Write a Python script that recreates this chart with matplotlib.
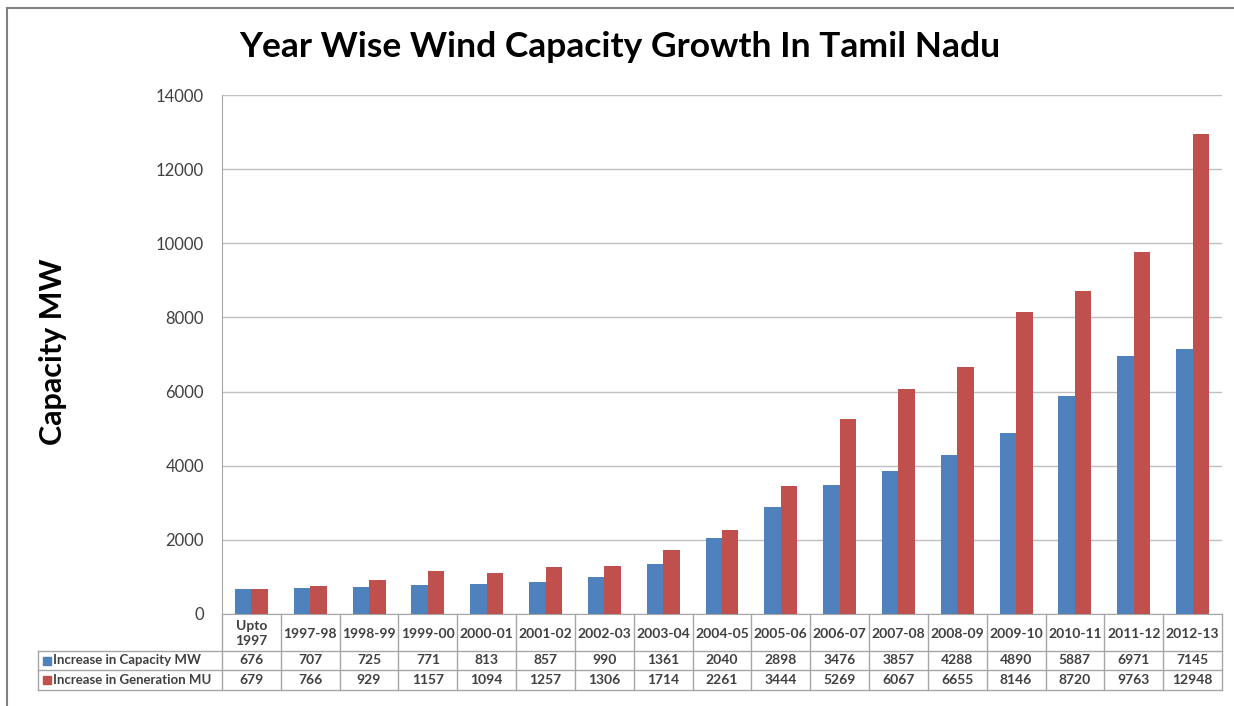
import numpy as np
import matplotlib.pyplot as plt
from matplotlib.lines import Line2D
from matplotlib.patches import Rectangle

# Daten
Jahre = ["Upto\n1997", "1997-98", "1998-99", "1999-00", "2000-01", "2001-02", "2002-03",
         "2003-04", "2004-05", "2005-06", "2006-07", "2007-08", "2008-09", "2009-10",
         "2010-11", "2011-12", "2012-13"]
Kapazitaet = [676, 707, 725, 771, 813, 857, 990, 1361, 2040, 2898, 3476, 3857, 4288,
              4890, 5887, 6971, 7145]
Erzeugung = [679, 766, 929, 1157, 1094, 1257, 1306, 1714, 2261, 3444, 5269, 6067, 6655,
             8146, 8720, 9763, 12948]
Reihen = ["Increase in Capacity MW", "Increase in Generation MU"]

BLAU = "#4F81BD"
ROT = "#C0504D"
GITTER = "#BFBFBF"
RAND = "#A6A6A6"
TEXT = "#404040"

W, H = 1234, 706
plt.rcParams["font.family"] = ["Lato", "DejaVu Sans"]

fig = plt.figure(figsize=(W / 100, H / 100), dpi=100)
links, rechts, oben, unten = 222, 1222, 95, 614
ax = fig.add_axes([links / W, 1 - unten / H, (rechts - links) / W, (unten - oben) / H])

x = np.arange(len(Jahre))
b = 0.28
ax.bar(x - b / 2, Kapazitaet, b, color=BLAU, zorder=3)
ax.bar(x + b / 2, Erzeugung, b, color=ROT, zorder=3)

ax.set_xlim(-0.5, len(Jahre) - 0.5)
ax.set_ylim(0, 14000)
ax.set_yticks(np.arange(0, 14001, 2000))
ax.tick_params(axis="y", length=0, pad=13, labelsize=12, labelcolor=TEXT)
ax.set_xticks([])
ax.grid(axis="y", color=GITTER, linewidth=1, zorder=0)
for s in ["top", "right"]:
    ax.spines[s].set_visible(False)
ax.spines["left"].set_color(RAND)
ax.spines["bottom"].set_color(RAND)

fig.text(620 / W, 1 - 47 / H, "Year Wise Wind Capacity Growth In Tamil Nadu",
         ha="center", va="center", fontsize=25.5, fontweight="bold", color="black")
fig.text(53 / W, 1 - 352 / H, "Capacity MW", ha="center", va="center", rotation=90,
         fontsize=22, fontweight="bold", color="black")

# Datentabelle unter dem Diagramm
def fy(py):
    return 1 - py / H

def fx(px):
    return px / W

zelle = (rechts - links) / len(Jahre)
kopf_unten, zeile1_unten, tab_unten = 651, 670, 690
tab_links = 38

def linie(xs, ys):
    fig.add_artist(Line2D([fx(v) for v in xs], [fy(v) for v in ys], color=RAND, linewidth=1))

for i in range(len(Jahre) + 1):
    xp = links + i * zelle
    linie([xp, xp], [unten, tab_unten])
linie([tab_links, tab_links], [kopf_unten, tab_unten])
linie([tab_links, rechts], [kopf_unten, kopf_unten])
linie([tab_links, rechts], [zeile1_unten, zeile1_unten])
linie([tab_links, rechts], [tab_unten, tab_unten])

for i, j in enumerate(Jahre):
    xm = links + (i + 0.5) * zelle
    fig.text(fx(xm), fy((unten + kopf_unten) / 2 + 1), j, ha="center", va="center",
             fontsize=10, fontweight="bold", color=TEXT, linespacing=1.3)
    fig.text(fx(xm), fy((kopf_unten + zeile1_unten) / 2), str(Kapazitaet[i]), ha="center",
             va="center", fontsize=10, fontweight="bold", color=TEXT)
    fig.text(fx(xm), fy((zeile1_unten + tab_unten) / 2), str(Erzeugung[i]), ha="center",
             va="center", fontsize=10, fontweight="bold", color=TEXT)

for k, (name, farbe) in enumerate(zip(Reihen, [BLAU, ROT])):
    oben_z = [kopf_unten, zeile1_unten][k]
    unten_z = [zeile1_unten, tab_unten][k]
    ym = (oben_z + unten_z) / 2
    fig.add_artist(Rectangle((fx(43), fy(ym + 4)), 8 / W, 8 / H, color=farbe,
                             transform=fig.transFigure))
    fig.text(fx(53), fy(ym), name, ha="left", va="center", fontsize=9.5,
             fontweight="bold", color=TEXT)

# Rahmen um das Diagramm
fig.add_artist(Line2D([fx(7), fx(7)], [fy(8), 0], color="#808080", linewidth=1.5))
fig.add_artist(Line2D([fx(7), 1], [fy(8), fy(8)], color="#808080", linewidth=1.5))

fig.savefig("out.png", dpi=100)
